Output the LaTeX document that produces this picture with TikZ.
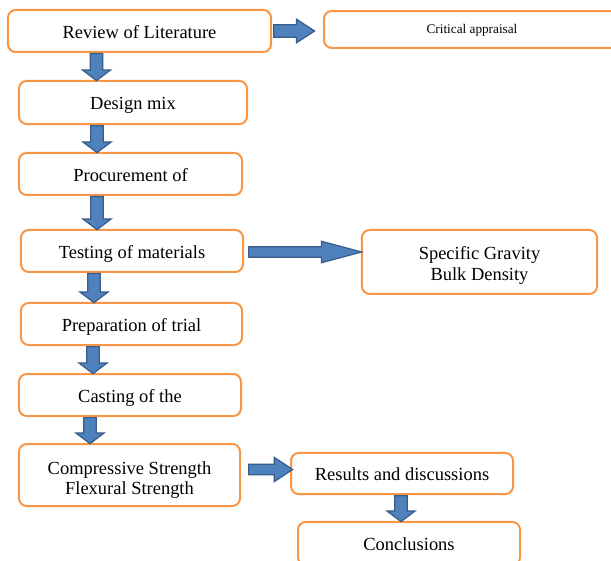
\documentclass[tikz,border=0pt]{standalone}
\usepackage{fontspec}
\setmainfont{Liberation Serif}
\usetikzlibrary{shapes.arrows,calc}
\definecolor{boxorange}{RGB}{247,150,70}
\definecolor{arrowblue}{RGB}{79,129,189}
\definecolor{arrowedge}{RGB}{56,93,138}

\begin{document}
\begin{tikzpicture}[
		x=0.65pt, y=-0.65pt, % one unit = one pixel of the layout
		stage/.style={rectangle, rounded corners=5pt, draw=boxorange, line width=1.3pt, fill=white, align=center, font=\fontsize{12}{13.5}\selectfont, text height=9.4pt, text depth=0pt},
		twoline/.style={text height=#1, text depth=2.6pt},
		blockarrow/.style={single arrow, draw=arrowedge, fill=arrowblue, line width=0.8pt, inner xsep=0pt, minimum width=0pt},
		headdown/.style={inner ysep=3.6pt, single arrow head extend=5.2pt, single arrow tip angle=106},
		headright/.style={inner ysep=3.6pt, single arrow head extend=3.6pt, single arrow tip angle=66},
		headlong/.style={inner ysep=3pt, single arrow head extend=3.6pt, single arrow tip angle=30},
		headshort/.style={inner ysep=3pt, single arrow head extend=4.5pt, single arrow tip angle=67},
		flow/.style={to path={let \p1=($(\tikztotarget)-(\tikztostart)$), \n1={veclen(\x1,\y1)}, \n2={atan2(\y1,\x1)} in node[blockarrow, #1, minimum height=\n1, rotate=\n2, anchor=tail] at (\tikztostart) {}}},
		flow/.default=headdown
		]
		
		\useasboundingbox (0,0) rectangle (611,561);
		\clip (0,0) rectangle (611,561);
		
		% Main column
		\node[stage, minimum width=171pt, minimum height=27.3pt] (rev) at (139.5,31) {Review of Literature};
		\node[stage, minimum width=148.2pt, minimum height=28pt] (dm) at (133,102.5) {Design mix};
		\node[stage, minimum width=145pt, minimum height=27.3pt] (proc) at (130.5,174) {Procurement of};
		\node[stage, minimum width=144.3pt, minimum height=27.3pt] (test) at (132,251) {Testing of materials};
		\node[stage, minimum width=143.7pt, minimum height=27.3pt] (prep) at (131.5,324) {Preparation of trial};
		\node[stage, minimum width=144.3pt, minimum height=27.3pt] (cast) at (130,395) {Casting of the};
		\node[stage, twoline=28.3pt, minimum width=143.7pt, minimum height=40.3pt] (comp) at (129.5,475) {Compressive Strength\\Flexural Strength};
		
		% Side boxes
		\node[stage, minimum width=192.4pt, minimum height=24pt, font=\fontsize{8.6}{10}\selectfont, text height=5.8pt] (crit) at (472,29.5) {Critical appraisal};
		\node[stage, twoline=27pt, minimum width=152.8pt, minimum height=41.6pt] (spec) at (479.5,262) {Specific Gravity\\Bulk Density};
		\node[stage, minimum width=144.3pt, minimum height=26.7pt] (res) at (402,473.5) {Results and discussions};
		\node[stage, minimum width=144.3pt, minimum height=28pt] (concl) at (409,543.5) {Conclusions};
		
		% Arrows
		\path (rev.south -| 96.5,0) to[flow] (dm.north -| 96.5,0);
		\path (dm.south -| 97,0) to[flow] (proc.north -| 97,0);
		\path (proc.south -| 97,0) to[flow] (test.north -| 97,0);
		\path (test.south -| 94,0) to[flow] (prep.north -| 94,0);
		\path (prep.south -| 93,0) to[flow] (cast.north -| 93,0);
		\path (cast.south -| 90,0) to[flow] (comp.north -| 90,0);
		\path (res.south -| 401,0) to[flow] (concl.north -| 401,0);
		
		\path ($(rev.east)+(1,0)$) to[flow=headright] ($(crit.west |- rev.east)+(-9,0)$);
		\path ($(test.east)+(4,1)$) to[flow=headlong] ($(spec.west |- test.east)+(0,1)$);
		\path ($(comp.east)+(7,-5.5)$) to[flow=headshort] ($(res.west)+(2,-4)$);
	\end{tikzpicture}
\end{document}
